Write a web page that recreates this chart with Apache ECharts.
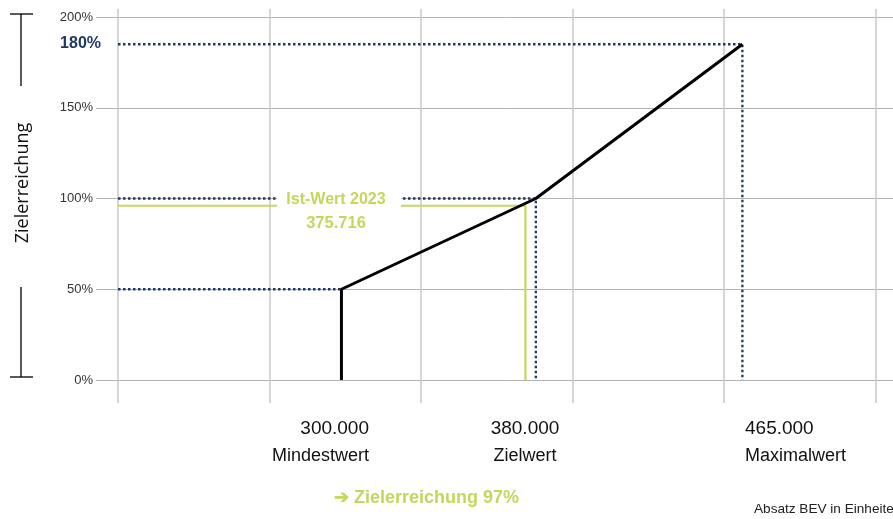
<!DOCTYPE html>
<html>
<head>
<meta charset="utf-8">
<script src="https://cdn.jsdelivr.net/npm/echarts@6/dist/echarts.min.js"></script>
<style>
html,body{margin:0;padding:0;background:#fff;}
#main{width:893px;height:519px;}
</style>
</head>
<body>
<div id="main"></div>
<script>
// ---- data ----
const refNames = ['Mindestwert', 'Zielwert', 'Maximalwert'];
const refX = [300000, 380000, 465000];          // Absatz BEV in Einheiten
const refPct = [50, 100, 185];                  // Zielerreichung % as drawn in the picture
const refPctText = ['50%', '100%', '180%'];
const refLabels = ['300.000', '380.000', '465.000'];
const curveX = [300000, 300000, 380000, 465000];
const curveY = [0, 50, 100, 185];
const istWert = 375716;
const istPct = 96;                              // as drawn
const istPctText = '97%';
const istLabel = ['Ist-Wert 2023', '375.716'];
const yTicks = [0, 50, 100, 150, 200];

// ---- styling constants ----
const NAVY = '#1f3864';
const GREEN = '#c5d65b';
const FONT = '"Liberation Sans Narrow", "Liberation Sans", Arial, sans-serif';
const X_MIN = 208050, X_MAX = 526980;
const BAND_PX = 151.54, GRID_W = 775;

const chart = echarts.init(document.getElementById('main'), null, {renderer: 'canvas'});

const curve = curveX.map((x, i) => [x, curveY[i]]);
const refSeries = refX.map((x, i) => {
  const pts = [[X_MIN, refPct[i]], [x, refPct[i]]];
  if (i > 0) pts.push([x, 0]);
  return {
    type: 'line', xAxisIndex: 2, yAxisIndex: 2, data: pts, symbol: 'none', z: 3,
    lineStyle: {color: NAVY, width: 2.3, type: [2.5, 2.5]}, silent: true
  };
});

const option = {
  animation: false,
  grid: [
    {left: 118, right: 0, top: 17, bottom: 139},   // horizontal grid + y labels
    {left: 118, right: 0, top: 9, bottom: 116},    // vertical bands
    {left: 118, right: 0, top: 17, bottom: 139}    // data
  ],
  xAxis: [
    {gridIndex: 0, type: 'value', min: 0, max: 1, show: false},
    {gridIndex: 1, type: 'value', min: 0, max: GRID_W / BAND_PX, interval: 1,
      axisLine: {show: false}, axisLabel: {show: false}, axisTick: {show: false},
      splitLine: {show: true, showMaxLine: false, lineStyle: {color: '#c8c8c8', width: 1.5}}},
    {gridIndex: 2, type: 'value', min: X_MIN, max: X_MAX, show: false}
  ],
  yAxis: [
    {gridIndex: 0, type: 'value', min: yTicks[0], max: yTicks[yTicks.length - 1], interval: 50,
      axisLine: {show: false},
      axisTick: {show: true, inside: false, length: 22, lineStyle: {color: '#b3b3b3', width: 1}},
      axisLabel: {formatter: '{value}%', color: '#333', fontSize: 13, fontFamily: FONT, margin: 25},
      splitLine: {show: true, lineStyle: {color: '#b3b3b3', width: 1}}},
    {gridIndex: 1, type: 'value', min: 0, max: 1, show: false},
    {gridIndex: 2, type: 'value', min: 0, max: 200, show: false}
  ],
  series: [
    ...refSeries,
    {type: 'line', xAxisIndex: 2, yAxisIndex: 2, symbol: 'none', z: 2, silent: true,
      data: [[X_MIN, istPct], [istWert, istPct], [istWert, 0]],
      lineStyle: {color: GREEN, width: 2.2}},
    {type: 'line', xAxisIndex: 2, yAxisIndex: 2, symbol: 'none', z: 4, silent: true,
      data: curve, lineStyle: {color: '#000', width: 3}}
  ],
  graphic: [
    // bracket + axis title on the left
    {type: 'line', shape: {x1: 10, y1: 14, x2: 33, y2: 14}, style: {stroke: '#000', lineWidth: 1.3}},
    {type: 'line', shape: {x1: 21, y1: 14, x2: 21, y2: 86}, style: {stroke: '#000', lineWidth: 1.3}},
    {type: 'line', shape: {x1: 21, y1: 287, x2: 21, y2: 377}, style: {stroke: '#000', lineWidth: 1.3}},
    {type: 'line', shape: {x1: 10, y1: 377, x2: 33, y2: 377}, style: {stroke: '#000', lineWidth: 1.3}},
    {type: 'text', x: 23, y: 183, rotation: Math.PI / 2,
      style: {text: 'Zielerreichung', fill: '#111', font: '18px "Open Sans", sans-serif',
        textAlign: 'center', textVerticalAlign: 'middle'}},
    // 180% highlight label
    {type: 'text', x: 101, y: 44, z: 10,
      style: {text: refPctText[2], fill: NAVY, font: 'bold 16px ' + FONT,
        textAlign: 'right', textVerticalAlign: 'middle'}},
    // Ist-Wert label with white mask
    {type: 'rect', shape: {x: 277, y: 190, width: 124, height: 20}, style: {fill: '#fff'}, z: 50},
    {type: 'text', x: 336, y: 200, z: 51,
      style: {text: istLabel[0], fill: GREEN, font: 'bold 16px ' + FONT,
        textAlign: 'center', textVerticalAlign: 'middle'}},
    {type: 'text', x: 336, y: 223, z: 51,
      style: {text: istLabel[1], fill: GREEN, font: 'bold 16.5px ' + FONT,
        textAlign: 'center', textVerticalAlign: 'middle'}},
    // x reference labels
    {type: 'text', x: 369, y: 429, style: {text: refLabels[0], fill: '#111', font: '19px ' + FONT, textAlign: 'right', textVerticalAlign: 'middle'}},
    {type: 'text', x: 369, y: 456, style: {text: refNames[0], fill: '#111', font: '18px ' + FONT, textAlign: 'right', textVerticalAlign: 'middle'}},
    {type: 'text', x: 525, y: 429, style: {text: refLabels[1], fill: '#111', font: '19px ' + FONT, textAlign: 'center', textVerticalAlign: 'middle'}},
    {type: 'text', x: 525, y: 456, style: {text: refNames[1], fill: '#111', font: '18px ' + FONT, textAlign: 'center', textVerticalAlign: 'middle'}},
    {type: 'text', x: 745, y: 429, style: {text: refLabels[2], fill: '#111', font: '19px ' + FONT, textAlign: 'left', textVerticalAlign: 'middle'}},
    {type: 'text', x: 745, y: 456, style: {text: refNames[2], fill: '#111', font: '18px ' + FONT, textAlign: 'left', textVerticalAlign: 'middle'}},
    // result
    {type: 'text', x: 334, y: 498, style: {text: '➔ Zielerreichung ' + istPctText, fill: GREEN, font: 'bold 18px ' + FONT, textAlign: 'left', textVerticalAlign: 'middle'}},
    {type: 'text', x: 754, y: 509, style: {text: 'Absatz BEV in Einheiten', fill: '#222', font: '13.6px ' + FONT, textAlign: 'left', textVerticalAlign: 'middle'}}
  ]
};
chart.setOption(option);
</script>
</body>
</html>
